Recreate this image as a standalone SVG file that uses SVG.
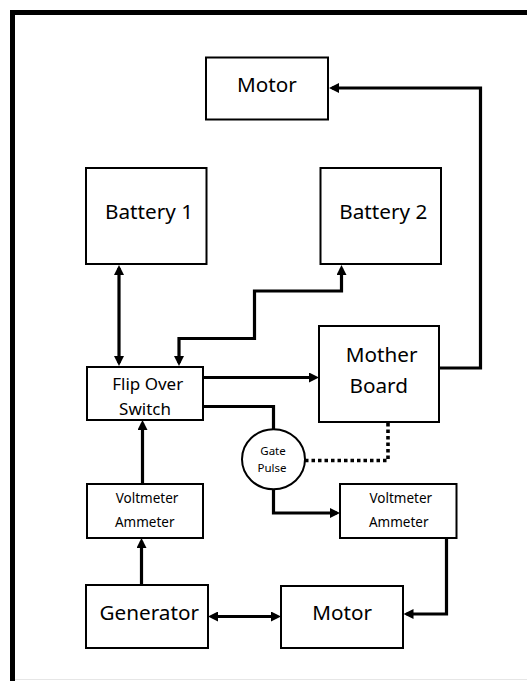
<svg xmlns="http://www.w3.org/2000/svg" width="527" height="681" viewBox="0 0 527 681">
<defs>
<style>
.box{fill:#fff;stroke:#000;stroke-width:2}
.lbl{font-family:"Noto Sans","Open Sans","Liberation Sans",sans-serif;fill:#000;text-anchor:middle}
.big{font-size:20.7px}
.mid{font-size:17px}
.sm{font-size:13.5px}
.xs{font-size:11.5px}
.con{fill:none;stroke:#000;stroke-width:3.2;stroke-linejoin:miter}
.dot{fill:none;stroke:#000;stroke-width:3.6;stroke-dasharray:3.5 3}
</style>
<marker id="ah" viewBox="0 0 10 10" markerWidth="10" markerHeight="10" markerUnits="userSpaceOnUse" refX="7" refY="5" orient="auto-start-reverse">
<path d="M0,0 L10,5 L0,10 z" fill="#000"/>
</marker>
</defs>
<rect width="527" height="681" fill="#fff"/>
<g id="frame">
<path d="M10,12.5 H527" stroke="#000" stroke-width="5" fill="none"/>
<path d="M12.5,10 V681" stroke="#000" stroke-width="5" fill="none"/>
<path d="M15,679.5 H527" stroke="#e6e6e6" stroke-width="1" fill="none"/>
</g>
<g id="connectors">
<path class="con" d="M439,368 H480.5 V88 H332" marker-end="url(#ah)"/>
<path class="con" d="M119,268 V363" marker-start="url(#ah)" marker-end="url(#ah)"/>
<path class="con" d="M179,363 V338.5 H254.5 V291 H341.5 V268" marker-start="url(#ah)" marker-end="url(#ah)"/>
<path class="con" d="M203,377.5 H316" marker-end="url(#ah)"/>
<path class="con" d="M203,406.5 H273.5 V429.5"/>
<path class="con" d="M273.5,489 V513 H337" marker-end="url(#ah)"/>
<path class="dot" d="M305,460.5 H388 V423"/>
<path class="con" d="M446.5,538 V614 H406.5" marker-end="url(#ah)"/>
<path class="con" d="M211,616.5 H278" marker-start="url(#ah)" marker-end="url(#ah)"/>
<path class="con" d="M141.5,585 V541" marker-end="url(#ah)"/>
<path class="con" d="M142.5,484 V423" marker-end="url(#ah)"/>
</g>
<g id="motor-top">
<rect class="box" x="206" y="57.5" width="122" height="62"/>
<text class="lbl big" x="267" y="92">Motor</text>
</g>
<g id="battery1">
<rect class="box" x="86" y="168" width="120.5" height="96"/>
<text class="lbl big" x="149" y="219">Battery 1</text>
</g>
<g id="battery2">
<rect class="box" x="320.5" y="168" width="120.5" height="96"/>
<text class="lbl big" x="383.3" y="219">Battery 2</text>
</g>
<g id="flip-over-switch">
<rect class="box" x="87" y="367" width="116" height="53"/>
<text class="lbl mid" x="147.7" y="390">Flip Over</text>
<text class="lbl mid" x="145" y="415">Switch</text>
</g>
<g id="mother-board">
<rect class="box" x="319" y="326" width="120" height="96"/>
<text class="lbl big" x="381.7" y="362">Mother</text>
<text class="lbl big" x="378.7" y="393">Board</text>
</g>
<g id="gate-pulse">
<ellipse class="box" cx="273.5" cy="459.3" rx="31.5" ry="30"/>
<text class="lbl xs" x="273" y="455">Gate</text>
<text class="lbl xs" x="272" y="472">Pulse</text>
</g>
<g id="va1">
<rect class="box" x="87" y="484" width="116" height="54"/>
<text class="lbl sm" x="147" y="503">Voltmeter</text>
<text class="lbl sm" x="144.7" y="527">Ammeter</text>
</g>
<g id="va2">
<rect class="box" x="340" y="484" width="116.5" height="54"/>
<text class="lbl sm" x="400.8" y="503">Voltmeter</text>
<text class="lbl sm" x="398.7" y="527">Ammeter</text>
</g>
<g id="generator">
<rect class="box" x="86" y="585" width="122" height="63"/>
<text class="lbl big" x="149.3" y="620">Generator</text>
</g>
<g id="motor-bottom">
<rect class="box" x="281" y="586" width="122" height="62"/>
<text class="lbl big" x="342.2" y="620">Motor</text>
</g>
</svg>
